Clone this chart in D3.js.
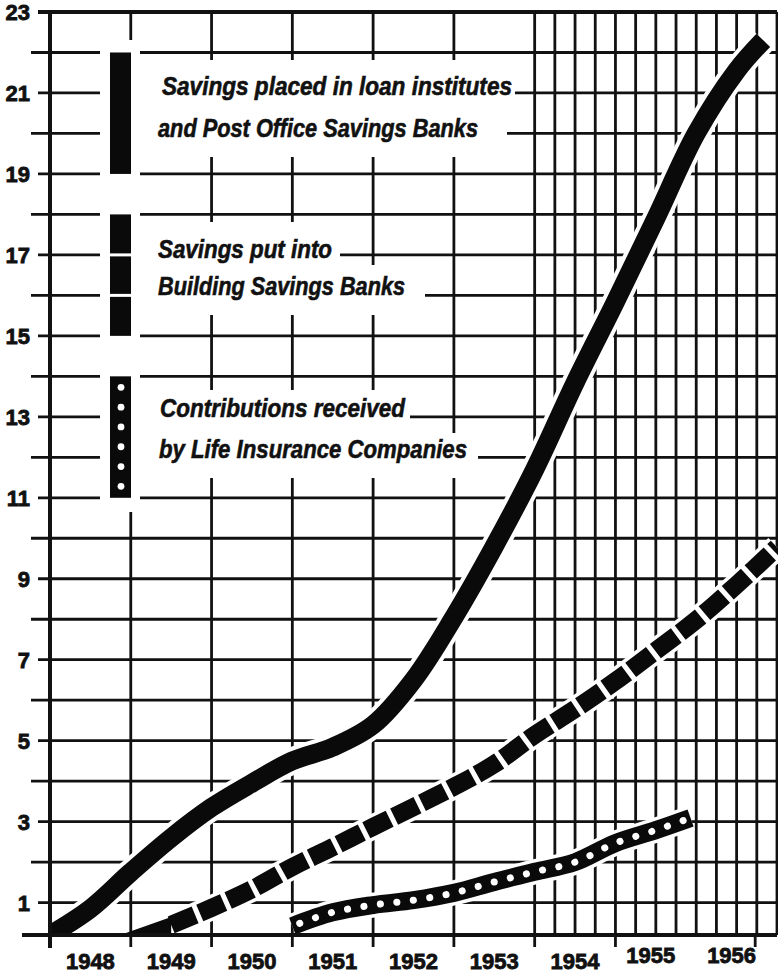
<!DOCTYPE html>
<html>
<head>
<meta charset="utf-8">
<script src="https://cdn.jsdelivr.net/npm/d3@7"></script>
<style>
  body { margin: 0; background: #fff; }
  text { font-family: "Liberation Sans", Arial, sans-serif; font-weight: bold; fill: #111; stroke: #111; }
</style>
</head>
<body>
<div id="chart-area"></div>
<script>
var ab_width = 778
var ab_height = 974

// values (decimal years, chart units)
var loanYears = [1948.0, 1948.5, 1949.0, 1949.5, 1950.0, 1950.5, 1951.0, 1951.5, 1952.0, 1952.5, 1953.0, 1953.5, 1954.0, 1954.5, 1955.0, 1955.5, 1956.0, 1956.5, 1956.83]
var loanValues = [0.2, 0.85, 1.75, 2.6, 3.35, 3.95, 4.5, 4.84, 5.39, 6.5, 8.05, 9.8, 11.7, 13.84, 15.84, 17.9, 20.0, 21.55, 22.3]

var buildYears = [1948.87, 1949.5, 1950.0, 1950.5, 1951.0, 1951.5, 1952.0, 1952.5, 1953.0, 1953.5, 1954.0, 1954.5, 1955.0, 1955.5, 1956.0, 1956.5, 1957.0]
var buildValues = [0.2, 0.45, 0.87, 1.33, 1.88, 2.37, 2.87, 3.36, 3.86, 4.42, 5.14, 5.78, 6.47, 7.22, 7.98, 8.85, 9.78]

var lifeYears = [1951.0, 1951.5, 1952.0, 1952.5, 1953.0, 1953.5, 1954.0, 1954.5, 1955.0, 1955.5, 1955.93]
var lifeValues = [0.42, 0.76, 0.94, 1.06, 1.24, 1.51, 1.76, 2.0, 2.47, 2.79, 3.09]

var yearLabels = [1948, 1949, 1950, 1951, 1952, 1953, 1954, 1955, 1956]
var tickYears = [1948, 1949, 1950, 1951, 1952, 1953, 1954, 1955, 1956.73]
var valueLabels = [1, 3, 5, 7, 9, 11, 13, 15, 17, 19, 21, 23]

var legendLines = [
  ['Savings placed in loan institutes', 'and Post Office Savings Banks'],
  ['Savings put into', 'Building Savings Banks'],
  ['Contributions received', 'by Life Insurance Companies']
]

var yBase = 0.2, yTop = 23

var x = d3.scaleLinear().domain([1948, 1957]).range([50, 777])
var y = d3.scaleLinear().domain([yBase, yTop]).range([935, 12])

var svg = d3.select('#chart-area')
  .append('svg')
  .attr('width', ab_width)
  .attr('height', ab_height)

svg.append('rect').attr('width', ab_width).attr('height', ab_height).attr('fill', '#fff')

var defs = svg.append('defs')
defs.append('clipPath').attr('id', 'plot-clip')
  .append('rect').attr('x', x(1948)).attr('y', y(yTop)).attr('width', x(1957) - x(1948) + 1).attr('height', y(yBase) - y(yTop))
defs.append('clipPath').attr('id', 'halo-clip')
  .append('rect').attr('x', x(1948) + 2).attr('y', y(yTop) + 2).attr('width', x(1957) - x(1948) - 1).attr('height', y(yBase) - y(yTop) - 4)

var grid = svg.append('g').attr('stroke', '#111').attr('stroke-width', 2.8)

// horizontal rulings; rows 11..22 are broken by the legend
var rowStart = {22: 140, 21: 515, 20: 507, 19: 140, 18: 140, 17: 340, 16: 425, 15: 140, 14: 140, 13: 410, 12: 478, 11: 140}
d3.range(1, 23).forEach(function(v) {
  var x0 = v % 2 ? 38 : 31
  if (rowStart[v]) {
    grid.append('line').attr('x1', x0).attr('x2', 100).attr('y1', y(v)).attr('y2', y(v))
    grid.append('line').attr('x1', rowStart[v]).attr('x2', x(1957)).attr('y1', y(v)).attr('y2', y(v))
  } else {
    grid.append('line').attr('x1', x0).attr('x2', x(1957)).attr('y1', y(v)).attr('y2', y(v))
  }
})

// vertical rulings: whole years up to 1953, quarters afterwards
var colGaps = {
  1949: [[40, 512]],
  1950: [[60, 157], [222, 315], [390, 478]],
  1951: [[60, 157], [222, 315], [390, 478]],
  1952: [[60, 157], [265, 315], [390, 478]],
  1953: [[60, 157], [433, 478]]
}
var cols = d3.range(1949, 1954).concat(d3.range(1954, 1957.01, 0.25))
cols.forEach(function(yr) {
  var gaps = colGaps[yr] || []
  var start = y(yTop)
  gaps.forEach(function(g) {
    grid.append('line').attr('x1', x(yr)).attr('x2', x(yr)).attr('y1', start).attr('y2', g[0])
    start = g[1]
  })
  grid.append('line').attr('x1', x(yr)).attr('x2', x(yr)).attr('y1', start).attr('y2', y(yBase))
})

// year ticks below the baseline
tickYears.forEach(function(yr) {
  grid.append('line').attr('x1', x(yr)).attr('x2', x(yr)).attr('y1', y(yBase)).attr('y2', y(yBase) + 12)
})

// series
var line = d3.line().curve(d3.curveCatmullRom.alpha(0.5))
  .x(function(d) { return x(d[0]) })
  .y(function(d) { return y(d[1]) })

var loan = d3.zip(loanYears, loanValues)
var build = d3.zip(buildYears, buildValues)
var life = d3.zip(lifeYears, lifeValues)

var halos = svg.append('g').attr('clip-path', 'url(#halo-clip)')
  .attr('fill', 'none').attr('stroke', '#fff')
halos.append('path').attr('d', line(loan)).attr('stroke-width', 27)
halos.append('path').attr('d', line(build.slice(1))).attr('stroke-width', 25)
halos.append('path').attr('d', line(life)).attr('stroke-width', 25)

var marks = svg.append('g').attr('clip-path', 'url(#plot-clip)')
marks.append('path').attr('d', line(loan))
  .attr('fill', 'none').attr('stroke', '#0a0a0a').attr('stroke-width', 19)

// thin lead-in wedge of the dashed series
var wedge = d3.area()
  .x(function(d) { return x(d[0]) })
  .y0(y(yBase))
  .y1(function(d, i) { return y(d[1]) - (i ? 8 : 0) })
marks.append('path').attr('d', wedge(build.slice(0, 2))).attr('fill', '#0a0a0a')
marks.append('path').attr('d', line(build.slice(1)))
  .attr('fill', 'none').attr('stroke', '#0a0a0a').attr('stroke-width', 18)
  .attr('stroke-dasharray', '26,5')

marks.append('path').attr('d', line(life))
  .attr('fill', 'none').attr('stroke', '#0a0a0a').attr('stroke-width', 18)
marks.append('path').attr('d', line(life))
  .attr('fill', 'none').attr('stroke', '#fff').attr('stroke-width', 7)
  .attr('stroke-linecap', 'round').attr('stroke-dasharray', '0.1,16.5').attr('stroke-dashoffset', -8)

// axes frame
var axes = svg.append('g').attr('stroke', '#111').attr('stroke-width', 4)
axes.append('line').attr('x1', 38).attr('x2', x(1957)).attr('y1', y(yTop)).attr('y2', y(yTop))
axes.append('line').attr('x1', 22).attr('x2', x(1957)).attr('y1', y(yBase)).attr('y2', y(yBase))
axes.append('line').attr('x1', x(1948)).attr('x2', x(1948)).attr('y1', y(yTop) - 2).attr('y2', y(yBase) + 13)

// axis labels
svg.append('g').selectAll('text').data(valueLabels).enter().append('text')
  .attr('x', 30).attr('y', function(d) { return y(d) + 8 })
  .attr('text-anchor', 'end').attr('font-size', 22).attr('stroke-width', 0.8)
  .text(function(d) { return d })

svg.append('g').selectAll('text').data(yearLabels).enter().append('text')
  .attr('x', function(d) { return x(d + 0.5) - (d >= 1955 ? 5 : 0) })
  .attr('y', function(d) { return d >= 1955 ? 963 : 969 })
  .attr('text-anchor', 'middle').attr('font-size', 22).attr('stroke-width', 0.8)
  .text(function(d) { return d })

// legend swatches
var sw = svg.append('g').attr('fill', '#0a0a0a')
sw.append('rect').attr('x', 110).attr('width', 21).attr('y', y(22)).attr('height', y(19) - y(22))
;[[18, 17], [17, 16], [16, 15]].forEach(function(r, i) {
  sw.append('rect').attr('x', 110).attr('width', 21)
    .attr('y', y(r[0]) + (i ? 1.5 : 0)).attr('height', y(r[1]) - y(r[0]) - (i < 2 ? 1.5 : 0) - (i ? 1.5 : 0))
})
sw.append('rect').attr('x', 110).attr('width', 21).attr('y', y(14)).attr('height', y(11) - y(14))
d3.range(6).forEach(function(i) {
  svg.append('circle').attr('cx', 121).attr('cy', y(14) + 11 + i * 19.8).attr('r', 3.4).attr('fill', '#fff')
})

// legend text, squeezed to the condensed width of the original lettering
var legendPos = [
  [[162, 95, 350], [158, 137, 320]],
  [[158, 258, 174], [158, 295, 247]],
  [[160, 417, 245], [159, 458, 308]]
]
legendLines.forEach(function(pair, i) {
  pair.forEach(function(t, j) {
    var p = legendPos[i][j]
    svg.append('text').attr('x', p[0]).attr('y', p[1])
      .attr('font-size', 25).attr('font-style', 'italic').attr('stroke-width', 0.6)
      .attr('textLength', p[2]).attr('lengthAdjust', 'spacingAndGlyphs')
      .text(t)
  })
})
</script>
</body>
</html>
